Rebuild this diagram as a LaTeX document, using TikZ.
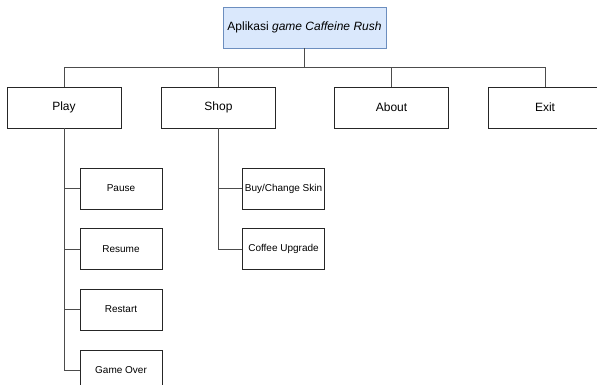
\documentclass[tikz,border=0pt]{standalone}
\usepackage{fontspec}
\setmainfont{Liberation Sans}
\usetikzlibrary{positioning}
\definecolor{rootfill}{HTML}{DAE8FC}
\definecolor{rootline}{HTML}{6C8EBF}

\begin{document}
\begin{tikzpicture}[x=1pt,y=-1pt,
        menu/.style={draw=black!85,line width=0.8pt,minimum width=114pt,minimum height=41pt,inner sep=1pt,font=\fontsize{12}{14}\selectfont},
        sub/.style={draw=black!85,line width=0.8pt,minimum width=82pt,minimum height=41pt,inner sep=1pt,font=\fontsize{10}{12}\selectfont},
        link/.style={draw=black!70,line width=1pt}]
            \useasboundingbox (0,0) rectangle (597,385);
            \node[menu,fill=rootfill,draw=rootline,minimum width=163pt] (root) at (304.5,27.5) {Aplikasi \textit{game Caffeine Rush}};
            \node[menu] (play) at (64,107.5) {Play};
            \node[menu] (shop) at (218.5,107.5) {Shop};
            \node[menu] (about) at (391.5,107.5) {About};
            \node[menu] (exit) at (545,107.5) {Exit};
            \foreach \n in {play,shop,about,exit}{
                \draw[link] (root.south) -- ++(0,19.5) -| (\n.north);
            }
            \foreach \n/\t/\y in {pause/Pause/188.5,resume/Resume/249,restart/Restart/309.5,over/Game Over/370.5}{
                \node[sub] (\n) at (121,\y) {\t};
                \draw[link] (play.south) |- (\n.west);
            }
            \foreach \n/\t/\y in {skin/Buy\slash Change Skin/188.5,upgrade/Coffee Upgrade/249}{
                \node[sub] (\n) at (283.5,\y) {\t};
                \draw[link] (shop.south) |- (\n.west);
            }
        \end{tikzpicture}
\end{document}
